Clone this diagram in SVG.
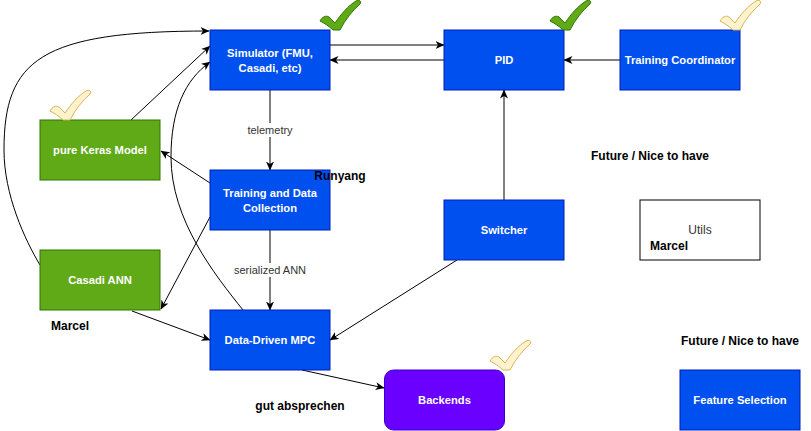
<svg xmlns="http://www.w3.org/2000/svg" width="811" height="431" viewBox="0 0 811 431">
<style>
.blue{fill:#0050ef;stroke:#001dbc;stroke-width:1}
.green{fill:#60a917;stroke:#2d7600;stroke-width:1}
.purple{fill:#6a00ff;stroke:#3700cc;stroke-width:1}
.plain{fill:#ffffff;stroke:#000000;stroke-width:1}
.nt{font-family:"Liberation Sans",Arial,sans-serif;font-size:11.2px;font-weight:bold;fill:#ffffff;text-anchor:middle}
.lt{font-family:"Liberation Sans",Arial,sans-serif;font-size:12px;font-weight:bold;fill:#000000;text-anchor:middle}
.ut{font-family:"Liberation Sans",Arial,sans-serif;font-size:12px;fill:#333333;text-anchor:middle}
.el{font-family:"Liberation Sans",Arial,sans-serif;font-size:11px;fill:#333333;text-anchor:middle}
.edge{fill:none;stroke:#000000;stroke-width:1;marker-end:url(#arr)}
.chkG{fill:#60a917;stroke:#2d7600;stroke-width:1}
.chkY{fill:#fff2cc;stroke:#d6b656;stroke-width:1}
</style>
<defs>
<marker id="arr" markerUnits="userSpaceOnUse" viewBox="0 0 9 8" markerWidth="9" markerHeight="8" refX="8.5" refY="4" orient="auto">
<path d="M0,0 L9,4 L0,8 L2.5,4 Z" fill="#000"/>
</marker>
<path id="check" d="M0,21 C2,17 6,15 9,17 L15,23 C21,14 28,6 36,1 C39,-0.5 42,1 40,4 C32,11 25,20 20,30 L13,30 C9,26 4,23 0,21 Z"/>
</defs>
<rect width="811" height="431" fill="#ffffff"/>

<g id="connectors">
<path class="edge" d="M330,45 L444,45"/>
<path class="edge" d="M444,60 L330,60"/>
<path class="edge" d="M620,60 L564,60"/>
<path class="edge" d="M504,200 L504,90"/>
<path class="edge" d="M270,90 L270,170"/>
<path class="edge" d="M210,183 L161,151"/>
<path class="edge" d="M131,120 L210,46"/>
<path class="edge" d="M40,265 C25,240 4,195 4,150 C4,60 40,31 209,31"/>
<path class="edge" d="M243,310 C215,275 171,220 171,157 C171,110 185,80 210,62"/>
<path class="edge" d="M210,217 L161,309"/>
<path class="edge" d="M132,311 L210,340"/>
<path class="edge" d="M457,260 L330,340"/>
<path class="edge" d="M270,230 L270,310"/>
<path class="edge" d="M302,370 L384,388"/>
<rect x="245" y="123" width="50" height="14" fill="#ffffff"/>
<text class="el" x="270" y="134">telemetry</text>
<rect x="232" y="263" width="76" height="14" fill="#ffffff"/>
<text class="el" x="270" y="274">serialized ANN</text>
</g>

<g id="simulator">
<rect class="blue" x="210" y="30" width="120" height="60"/>
<text class="nt" x="270" y="57">Simulator (FMU,</text>
<text class="nt" x="270" y="72">Casadi, etc)</text>
<use href="#check" x="320" y="0" class="chkG"/>
</g>
<g id="pid">
<rect class="blue" x="444" y="30" width="120" height="60"/>
<text class="nt" x="504" y="64">PID</text>
<use href="#check" x="550" y="0" class="chkG"/>
</g>
<g id="training-coordinator">
<rect class="blue" x="620" y="30" width="120" height="60"/>
<text class="nt" x="680" y="64">Training Coordinator</text>
<use href="#check" x="720" y="0" class="chkY"/>
</g>
<g id="keras">
<rect class="green" x="40" y="120" width="120" height="60"/>
<text class="nt" x="100" y="154">pure Keras Model</text>
<use href="#check" x="50" y="90" class="chkY"/>
</g>
<g id="training">
<rect class="blue" x="210" y="170" width="120" height="60"/>
<text class="nt" x="270" y="197">Training and Data</text>
<text class="nt" x="270" y="212">Collection</text>
</g>
<g id="casadi-ann">
<rect class="green" x="40" y="250" width="120" height="60"/>
<text class="nt" x="100" y="284">Casadi ANN</text>
</g>
<g id="mpc">
<rect class="blue" x="210" y="310" width="120" height="60"/>
<text class="nt" x="270" y="344">Data-Driven MPC</text>
</g>
<g id="switcher">
<rect class="blue" x="444" y="200" width="120" height="60"/>
<text class="nt" x="504" y="234">Switcher</text>
</g>
<g id="utils">
<rect class="plain" x="640" y="200" width="120" height="60"/>
<text class="ut" x="700" y="234">Utils</text>
<text class="lt" x="669" y="250">Marcel</text>
</g>
<g id="backends">
<rect class="purple" x="384.5" y="370" width="120" height="60" rx="9" ry="9"/>
<text class="nt" x="444.5" y="404">Backends</text>
<use href="#check" x="490" y="340" class="chkY"/>
</g>
<g id="feature-selection">
<rect class="blue" x="680" y="370" width="120" height="60"/>
<text class="nt" x="740" y="404">Feature Selection</text>
</g>
<g id="labels">
<text class="lt" x="340" y="180">Runyang</text>
<text class="lt" x="650" y="160">Future / Nice to have</text>
<text class="lt" x="740" y="345">Future / Nice to have</text>
<text class="lt" x="70" y="330">Marcel</text>
<text class="lt" x="300" y="410">gut absprechen</text>
</g>
</svg>
